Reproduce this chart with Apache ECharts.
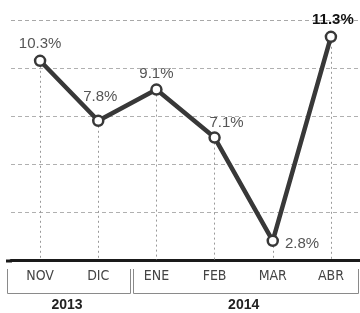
<!DOCTYPE html>
<html>
<head>
<meta charset="utf-8">
<script src="https://cdn.jsdelivr.net/npm/echarts@6/dist/echarts.min.js"></script>
<style>
html,body{margin:0;padding:0;background:#fff;}
#c{width:360px;height:313px;}
</style>
</head>
<body>
<div id="c"></div>
<script>
var categories = ['NOV', 'DIC', 'ENE', 'FEB', 'MAR', 'ABR'];
var values = [10.3, 7.8, 9.1, 7.1, 2.8, 11.3];
var years = ['2013', '2014'];
var yearSpans = [[0, 1], [2, 5]];
var yMin = 2, yMax = 12, yInterval = 2;

var labelOffsets = [[0, -1], [2, -8], [0, 0], [12, 1], null, [2, -1]];

var chart = echarts.init(document.getElementById('c'), null, {renderer: 'canvas'});

var seriesData = values.map(function (v, i) {
  var item = {value: v};
  if (i === 4) {
    item.label = {position: 'right', distance: 6, offset: [0, 3]};
  } else {
    item.label = {position: 'top', distance: 2, offset: labelOffsets[i]};
  }
  if (i === values.length - 1) {
    item.label.fontWeight = 'bold';
    item.label.color = '#111';
  }
  return item;
});

var dropLines = values.map(function (v, i) {
  return [{coord: [i, v]}, {coord: [i, yMin]}];
});

var font = '"Liberation Sans", Arial, sans-serif';
var gridColor = '#b0b0b0';

chart.setOption({
  animation: false,
  grid: {left: 11, right: 0, top: 20, bottom: 53, containLabel: false},
  xAxis: {
    type: 'category',
    data: categories,
    boundaryGap: true,
    axisLine: {show: true, lineStyle: {color: '#1a1a1a', width: 3}},
    axisTick: {show: false},
    axisLabel: {margin: 9, fontSize: 14, color: '#444', fontFamily: '"Liberation Sans Narrow", "DejaVu Sans Condensed", sans-serif'},
    splitLine: {show: false}
  },
  yAxis: {
    type: 'value',
    min: yMin, max: yMax, interval: yInterval,
    axisLine: {show: false},
    axisTick: {show: false},
    axisLabel: {show: false},
    splitLine: {show: true, lineStyle: {color: gridColor, type: [4, 3], width: 1}}
  },
  series: [{
    type: 'line',
    data: seriesData,
    symbol: 'circle',
    symbolSize: 10,
    z: 5,
    lineStyle: {color: '#383838', width: 4.5},
    itemStyle: {color: '#fff', borderColor: '#383838', borderWidth: 2.5},
    label: {
      show: true,
      formatter: function (p) { return p.value.toFixed(1) + '%'; },
      fontSize: 15,
      fontFamily: font,
      color: '#555'
    },
    markLine: {
      silent: true,
      symbol: 'none',
      z: 1,
      label: {show: false},
      lineStyle: {color: '#999', type: [2, 3], width: 1},
      data: dropLines
    }
  }]
});

var graphics = [];
// top gridline at the axis maximum
var topY = Math.round(chart.convertToPixel({yAxisIndex: 0}, yMax)) + 0.5;
if (!isFinite(topY)) topY = 20.5;
graphics.push({type: 'line', z: 0, shape: {x1: 11, y1: topY, x2: 360, y2: topY}, style: {stroke: '#a8a8a8', lineWidth: 1, lineDash: [4, 3]}});
// axis line extension on the left
graphics.push({type: 'line', shape: {x1: 6, y1: 261, x2: 12, y2: 261}, style: {stroke: '#1a1a1a', lineWidth: 3}});
// year brackets below axis
var boundaryEdges = [[7, 130], [133, 358]];
yearSpans.forEach(function (span, k) {
  var x1 = boundaryEdges[k][0], x2 = boundaryEdges[k][1];
  graphics.push({
    type: 'polyline',
    shape: {points: [[x1 + 0.5, 269], [x1 + 0.5, 293.5], [x2 + 0.5, 293.5], [x2 + 0.5, 269]]},
    style: {stroke: '#8a8a8a', lineWidth: 1, fill: null}
  });
  var cx = (chart.convertToPixel({xAxisIndex: 0}, span[0]) + chart.convertToPixel({xAxisIndex: 0}, span[1])) / 2;
  if (k === 0) cx = 67;
  graphics.push({
    type: 'text',
    x: cx, y: 305,
    style: {text: years[k], font: 'bold 14px ' + font, fill: '#222', textAlign: 'center', textVerticalAlign: 'middle'}
  });
});
chart.setOption({graphic: graphics});
</script>
</body>
</html>
